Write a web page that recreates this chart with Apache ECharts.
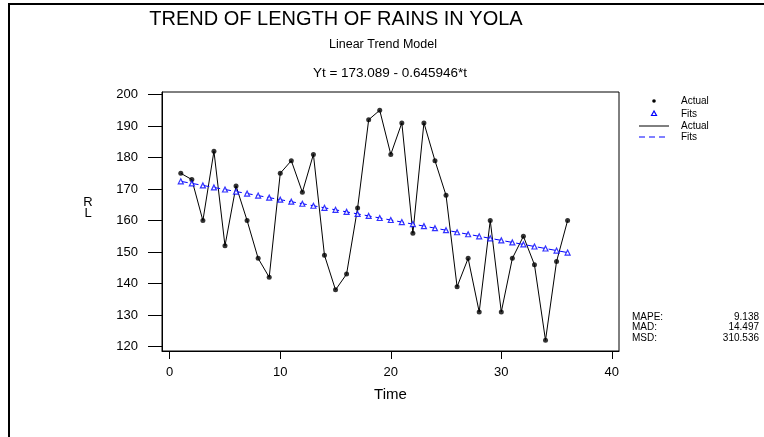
<!DOCTYPE html>
<html>
<head>
<meta charset="utf-8">
<script src="https://cdn.jsdelivr.net/npm/echarts@6/dist/echarts.min.js"></script>
<style>
  html, body { margin: 0; padding: 0; background: #fff; }
  #chart { width: 764px; height: 437px; }
</style>
</head>
<body>
<div id="chart"></div>
<script>
// Yearly index of the rainy-season record
const timeIndex = [1, 2, 3, 4, 5, 6, 7, 8, 9, 10, 11, 12, 13, 14, 15, 16, 17, 18,
  19, 20, 21, 22, 23, 24, 25, 26, 27, 28, 29, 30, 31, 32, 33, 34, 35, 36];

// Observed length of rains (days)
const actual = [175, 173, 160, 182, 152, 171, 160, 148, 142, 175, 179, 169,
  181, 149, 138, 143, 164, 192, 195, 181, 191, 156, 191, 179,
  168, 139, 148, 131, 160, 131, 148, 155, 146, 122, 147, 160];

// Fitted values of the linear trend Yt = 173.089 - 0.645946*t
const fits = [172.443, 171.797, 171.151, 170.505, 169.859, 169.213, 168.567, 167.921,
  167.275, 166.630, 165.984, 165.338, 164.692, 164.046, 163.400, 162.754,
  162.108, 161.462, 160.816, 160.170, 159.524, 158.878, 158.232, 157.586,
  156.940, 156.294, 155.648, 155.002, 154.356, 153.711, 153.065, 152.419,
  151.773, 151.127, 150.481, 149.835];

const xTicks = [0, 10, 20, 30, 40];
const yTicks = [120, 130, 140, 150, 160, 170, 180, 190, 200];

const legendNames = ['Actual', 'Fits', 'Actual', 'Fits'];
const accuracyNames = ['MAPE:', 'MAD:', 'MSD:'];
const accuracyValues = ['9.138', '14.497', '310.536'];

const FONT = '"Liberation Sans", Arial, sans-serif';
const BLUE = '#0000ff';

const actualPairs = timeIndex.map((t, i) => [t, actual[i]]);
const fitPairs = timeIndex.map((t, i) => [t, fits[i]]);

const chart = echarts.init(document.getElementById('chart'));

function label(text, x, y, size, align) {
  return {
    type: 'text', x, y, silent: true,
    style: { text, fontSize: size, fontFamily: FONT, fill: '#000',
             textAlign: align || 'center', textVerticalAlign: 'middle' }
  };
}

// Heading block
const headings = [
  label('TREND OF LENGTH OF RAINS IN YOLA', 336, 19, 20),
  label('Linear Trend Model', 383, 45, 12.5),
  label('Yt = 173.089 - 0.645946*t', 390, 73, 13.5)
];

// Legend: symbol keys, then line keys
const legendRows = [101, 114, 126, 137];
const legendKeys = [
  { type: 'circle', shape: { cx: 654, cy: legendRows[0], r: 1.8 }, style: { fill: '#000' } },
  { type: 'polygon', shape: { points: [[654, legendRows[1] - 3], [651.5, legendRows[1] + 1.5], [656.5, legendRows[1] + 1.5]] },
    style: { fill: '#fff', stroke: BLUE, lineWidth: 1.2 } },
  { type: 'line', shape: { x1: 639, y1: legendRows[2], x2: 669, y2: legendRows[2] },
    style: { stroke: '#000', lineWidth: 1 } },
  { type: 'line', shape: { x1: 639, y1: legendRows[3], x2: 669, y2: legendRows[3] },
    style: { stroke: BLUE, lineWidth: 1, lineDash: [6, 4] } }
].map(g => Object.assign({ silent: true }, g));
const legendTexts = legendNames.map((n, i) => label(n, 681, legendRows[i], 10, 'left'));

// Accuracy measures
const accuracyTexts = [];
accuracyNames.forEach((n, i) => {
  const y = 317 + i * 10.4;
  accuracyTexts.push(label(n, 632, y, 10, 'left'));
  accuracyTexts.push(label(accuracyValues[i], 759, y, 10, 'right'));
});

chart.setOption({
  backgroundColor: '#fff',
  animation: false,
  grid: {
    left: 162, right: 145, top: 92, bottom: 86,
    show: true, borderColor: '#000', borderWidth: 1, backgroundColor: '#fff'
  },
  xAxis: {
    type: 'value', min: -0.7, max: 40.65,
    name: 'Time', nameLocation: 'middle', nameGap: 36,
    nameTextStyle: { fontSize: 15, fontFamily: FONT, color: '#000' },
    axisLine: { show: true, onZero: false, lineStyle: { color: '#000', width: 1 } },
    axisTick: { show: true, length: 8, customValues: xTicks, lineStyle: { color: '#000' } },
    axisLabel: { customValues: xTicks, margin: 15, fontSize: 13, fontFamily: FONT, color: '#000' },
    splitLine: { show: false }
  },
  yAxis: {
    type: 'value', min: 118.6, max: 200.8,
    axisLine: { show: true, onZero: false, lineStyle: { color: '#000', width: 1 } },
    axisTick: { show: true, length: 14, customValues: yTicks, lineStyle: { color: '#000' } },
    axisLabel: { customValues: yTicks, margin: 24, fontSize: 13, fontFamily: FONT, color: '#000' },
    splitLine: { show: false }
  },
  series: [
    {
      name: 'Actual line', type: 'line', data: actualPairs, symbol: 'none',
      lineStyle: { color: '#000', width: 1 }, itemStyle: { color: '#000' }, z: 2
    },
    {
      name: 'Fits line', type: 'line', data: fitPairs, symbol: 'none',
      lineStyle: { color: BLUE, width: 1, type: [7, 4] }, itemStyle: { color: BLUE }, z: 3
    },
    {
      name: 'Actual', type: 'scatter', data: actualPairs, symbol: 'circle', symbolSize: 5,
      itemStyle: { color: '#000' }, z: 4
    },
    {
      name: 'Fits', type: 'scatter', data: fitPairs, symbol: 'triangle', symbolSize: 5,
      itemStyle: { color: '#fff', borderColor: BLUE, borderWidth: 1.2 }, z: 5
    }
  ],
  graphic: [
    { type: 'rect', shape: { x: 9, y: 4, width: 900, height: 600 },
      style: { fill: 'none', stroke: '#000', lineWidth: 2 }, silent: true },
    ...headings,
    { type: 'text', x: 88, y: 208, silent: true,
      style: { text: 'R\nL', fontSize: 13, lineHeight: 11, fontFamily: FONT, fill: '#000',
               textAlign: 'center', textVerticalAlign: 'middle' } },
    ...legendKeys,
    ...legendTexts,
    ...accuracyTexts
  ]
});
</script>
</body>
</html>
